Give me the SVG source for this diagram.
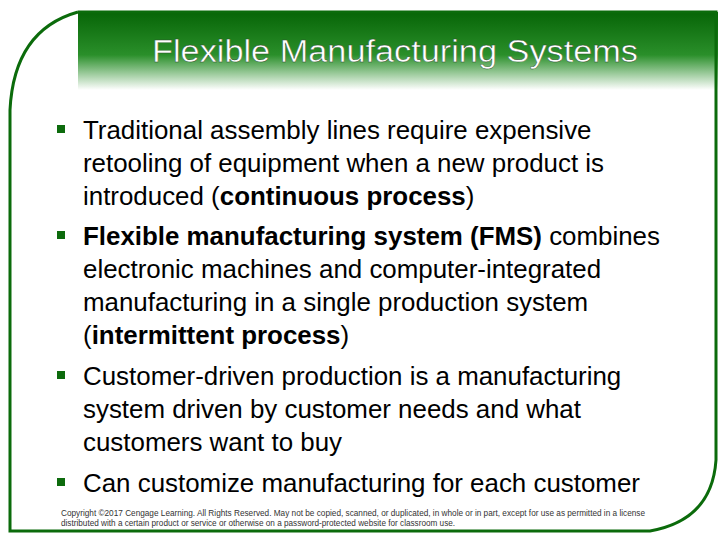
<svg xmlns="http://www.w3.org/2000/svg" width="720" height="540" viewBox="0 0 720 540">
<defs>
<linearGradient id="hg" x1="0" y1="0" x2="0" y2="1">
<stop offset="0" stop-color="#076507"/>
<stop offset="0.55" stop-color="#2a8f2a"/>
<stop offset="1" stop-color="#ffffff"/>
</linearGradient>
<style>
.t{font-family:"Liberation Sans",Arial,sans-serif;font-size:25.9px;fill:#000}
.b{font-weight:bold}
.bul{fill:#0d6b0d}
.c{font-family:"Liberation Sans",sans-serif;font-size:8.2px;fill:#333}
</style>
</defs>
<rect width="720" height="540" fill="#fff"/>
<rect x="78" y="12" width="640" height="78" fill="url(#hg)"/>
<path d="M78,12 L716,12 L716,460 Q712,520 650,531 L10,531 L10,110 Q14,30 78,12" fill="none" stroke="#0b6b0b" stroke-width="3"/>
<text x="395" y="62" text-anchor="middle" font-family="Liberation Sans,Arial,sans-serif" font-size="31" textLength="486" lengthAdjust="spacingAndGlyphs" fill="#fff" stroke="#2a4a2a" stroke-width="0.4">Flexible Manufacturing Systems</text>
<g class="bul">
<rect x="57" y="125" width="8" height="8"/>
<rect x="57" y="231" width="8" height="8"/>
<rect x="57" y="371" width="8" height="8"/>
<rect x="57" y="478" width="8" height="8"/>
</g>
<text class="t" x="83" y="139">Traditional assembly lines require expensive</text>
<text class="t" x="83" y="172">retooling of equipment when a new product is</text>
<text class="t" x="83" y="205">introduced (<tspan class="b">continuous process</tspan>)</text>
<text class="t" x="83" y="245"><tspan class="b">Flexible manufacturing system (FMS)</tspan> combines</text>
<text class="t" x="83" y="278">electronic machines and computer-integrated</text>
<text class="t" x="83" y="311">manufacturing in a single production system</text>
<text class="t" x="83" y="344">(<tspan class="b">intermittent process</tspan>)</text>
<text class="t" x="83" y="385">Customer-driven production is a manufacturing</text>
<text class="t" x="83" y="418">system driven by customer needs and what</text>
<text class="t" x="83" y="451">customers want to buy</text>
<text class="t" x="83" y="492">Can customize manufacturing for each customer</text>
<text class="c" x="61" y="516" textLength="584" lengthAdjust="spacingAndGlyphs">Copyright ©2017 Cengage Learning. All Rights Reserved. May not be copied, scanned, or duplicated, in whole or in part, except for use as permitted in a license</text>
<text class="c" x="61" y="526">distributed with a certain product or service or otherwise on a password-protected website for classroom use.</text>
</svg>
